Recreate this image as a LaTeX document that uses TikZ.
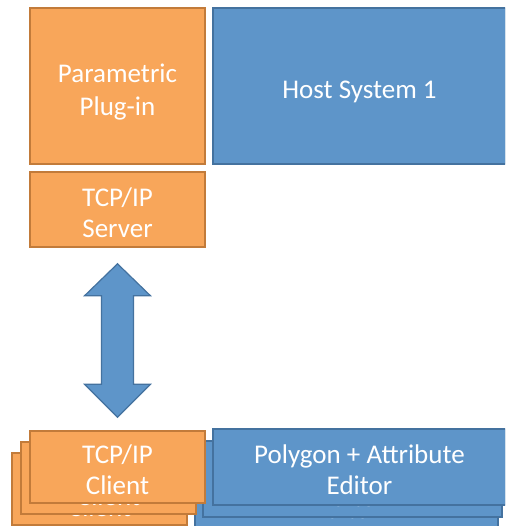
\documentclass[tikz,border=0pt]{standalone}
\usepackage{fontspec}
\setmainfont{Carlito}
\usetikzlibrary{calc}
\definecolor{orfill}{HTML}{F8A65A}
\definecolor{ordraw}{HTML}{C27B3A}
\definecolor{blfill}{HTML}{5E95C9}
\definecolor{bldraw}{HTML}{44729F}
\tikzset{
  orbox/.style={draw=ordraw, fill=orfill, line width=1.6pt, inner sep=0pt},
  blbox/.style={draw=bldraw, fill=blfill, line width=1.6pt, inner sep=0pt},
  lbl/.style={text=white, inner sep=0pt, align=center, font=\fontsize{27}{31}\selectfont},
  biglbl/.style={lbl, font=\fontsize{27}{33}\selectfont},
  blockarrow/.style={draw=bldraw, fill=blfill, line width=1.2pt, line join=miter}
}
\begin{document}
\begin{tikzpicture}[x=1pt, y=-1pt]
\useasboundingbox (0,0) rectangle (505,526);
\begin{scope}
\clip (0,0) rectangle (505,526);
% upper column: plug-in, host and server
\node[orbox, minimum width=175pt, minimum height=156pt] (plugin) at (117.5,86) {};
\node[biglbl] (plugintxt) at ($(plugin.center)+(0,6)$) {Parametric\\Plug-in};
\node[blbox, minimum width=293pt, minimum height=156pt] (host) at (359.5,86) {};
\node[biglbl] (hosttxt) at ($(host.center)+(0,6)$) {Host System 1};
\node[orbox, minimum width=175pt, minimum height=75pt] (server) at (117.5,209.5) {};
\node[lbl] (servertxt) at ($(server.center)+(0,3)$) {TCP/IP\\Server};
% stacked editors and clients, back layers first
\node[blbox, minimum width=303pt, minimum height=76pt] (ed3) at (346.5,491) {};
\node[lbl] (ed3txt) at ($(ed3.center)+(0,3)$) {Polygon + Attribute\\Editor};
\node[blbox, minimum width=299pt, minimum height=76pt] (ed2) at (352.5,479) {};
\node[lbl] (ed2txt) at ($(ed2.center)+(0,3)$) {Polygon + Attribute\\Editor};
\node[orbox, minimum width=175pt, minimum height=72pt] (cl3) at (99.5,489) {};
\node[lbl] (cl3txt) at ($(cl3.center)+(0,3)$) {TCP/IP\\Client};
\node[orbox, minimum width=175pt, minimum height=72pt] (cl2) at (108.5,478) {};
\node[lbl] (cl2txt) at ($(cl2.center)+(0,3)$) {TCP/IP\\Client};
\node[blbox, minimum width=293pt, minimum height=76pt] (editor) at (359.5,467) {};
\node[lbl] (editortxt) at ($(editor.center)+(0,3)$) {Polygon + Attribute\\Editor};
\node[orbox, minimum width=175pt, minimum height=72pt] (client) at (117.5,467) {};
\node[lbl] (clienttxt) at ($(client.center)+(0,3)$) {TCP/IP\\Client};
\end{scope}
% double-headed block arrow between server and client
\coordinate (atop) at ($(server.south)+(0,16)$);
\coordinate (abot) at ($(client.north)+(0,-13)$);
\draw[blockarrow]
  (atop) -- ++(33,32) -- ++(-17,0) |- ($(abot)+(16,-33)$) -- ++(17,0)
  -- (abot) -- ++(-33,-33) -- ++(17,0) |- ($(atop)+(-16,32)$) -- ++(-17,0) -- cycle;
\end{tikzpicture}
\end{document}
